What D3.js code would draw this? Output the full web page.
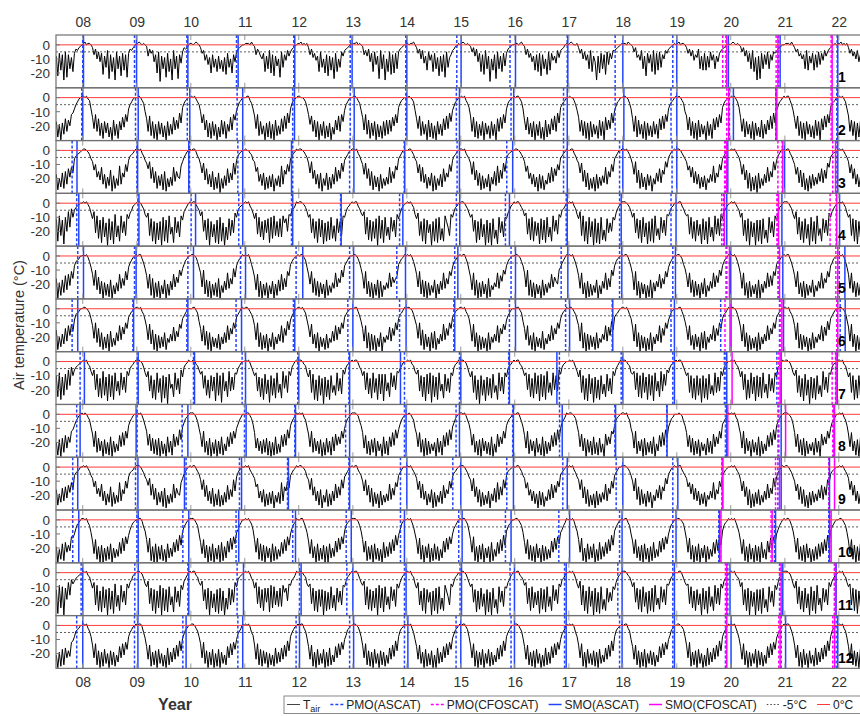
<!DOCTYPE html>
<html>
<head>
<meta charset="utf-8">
<script src="https://cdn.jsdelivr.net/npm/d3@7"></script>
<style>
  body { margin: 0; background: #fff; }
  text { font-family: Arial, "Liberation Sans", sans-serif; }
</style>
</head>
<body>
<svg width="860" height="716"></svg>
<script>
// years covered by the Tair strings (2007 = Jul-Dec only, 2022 = Jan-Jun only)
var years = d3.range(2007, 2023);

// Tair, about one value per 10 days.
// code: digits = +value, a..z = -1..-26, A..D = -27..-30
var tair01 = ["hvfrgy ewgqis fcdba0","120110 bgcjel fuhpdx gsiyeq hvfrgw fcdba1","121010 ahcfdl gtezhq iwfsjy dqhxgm ebcb01","101210 bfdkgn itgpjs hqksiu fpjtgl ecba00","111020 agcehj fshqdt gvhojw epgkdh ecba01","120101 bgcifk hsepjt gvhrix fsjpeh dcba10","112010 agdhcl fsenhx dqgyjs eugtfq ecba01","101120 bfcjdm hrekgs fqivhs gwepig dcaa10","121010 aebhcl fsgudq hzjrgx eqhsfo fcba00","110120 agcifl hrgsfv gqjuer fkhmdi dcb010","121001 bfcjek gqdshl yhtfqg uenfjd dcba01","110210 aebigk dqhvfm gsdufr epgjdf cba010","120110 bfchdk gicqhr frhpek gqhlfd cba010","121010 aebhdl fqdsiy hxfqgn eqgkef dcba00","111020 bechfj gqdrhm frgpen fkdhec ba0101","120101 bfchej dlgkfh"];
var tair02 = ["qBsDrz oxptlk heca01","101abh nvlxoA rCqyrB uDpAsC qwnulq heca00","010bdj oxmAqC sDqzrB tDqAsz nwpvkr gdba00","101ace jrlwpB rCqAsD uBpzqC sxnwlp ifcb00","011bdh mvlAqz tDrBqC sDpAtz oxmvkr hdba01","100acg lsmxpB qDsAqC tBrDuz pwmxlq ieca00","110bdi nwlzpC rAqDsB tCqApz pxntlr gdba00","010aci ovmAqz sDpBrC tDqzsA owmvkq ifcb00","101bdg mxnBqC sAqDrz tCqAsD oxnvlr hdba01","011ach pwnzrB qDsAqC uDpBsz owmxkr gecb00","100bei nxpAqC rDqBsz tCpAqD nwpvkr ifcb00","110adh oxmBpz sCqDrA tBqzsC owmvlq hecb01","010bdj mwnAqC rDpBsz tDqAsC ownulr gdba00","101acg nxoBqz sCqDrA uBpCsz pwmvkr ifcb01","011bei ovmAqC rDqzsB tCpAqD owmulr gdcb00","101ach mxpAqD rBqCsz"];
var tair03 = ["qBtzpA oxmslp fdcba0","110acf hnjsou lxqAsy nCrAty kxpsjo gdcb01","101bdg imhtlw oAryqB oCtzsy lvostk heca01","011adf jpiumx qzoBsA pDtAry mwpuiq gdba00","100bcg holvqy pBsArz qCtyrz kxnqjo fdba10","110ace iphtnx qApCty pBsAqx lvntio geca01","101bdg jqitmy oBrzsC qAtysx lwotkn fdb000","011acf hpjvlw qAsypC rBtyqz mvpsjo gdca01","101bdf iqhuny pBrAtz qCsxoy kwntio fcba00","110ace hoktpx qzsCqA rBuxpw lvmrjn edba10","011bdg ipivnz pBtAsC qAsyrw lxosjo fdb001","101acf jqhwnA pzsBqy rCtxpv mwnqhl eca010","110bdf hnkslw oxqAsz rBtwqv kwpsjn fdba00","101ace iqjunA pCsBrD pAtyqw lvoshn gdb010","011bdg jqlwnz pBtCrA qysxpv mwntil ecba00","101ace hpjtmx qzsBrA"];
var tair04 = ["kAiwlC jtfqdj ecba00","101acg kfuiyl BjxnDk zmChxp Aiumwh kgeba0","110bdh jgwkAm CnzmDj AlBivq Bjumxi lfdb01","011ace iftlzk DmxoBl CjAnDq zkwlug jecba0","101bdg kgvjxm zlukBj yiwmxk xinkth iedb10","110acf jhukym BkxlCn Amzjyp Akumwi jfcb01","011bdg ifvjzl AmykDi ylBjwq zjtlxh kgdba0","101ach kgwmAk CluoDm AkBjzr Aimqwh jfcb00","110bdg jhtlBm zkxoDl BnDkys Cjumxj kgeba1","011ace igvkzj AmwnCk zlBjxq Aitlvh jedb00","101bdh kfwiAm CjxmDk BnCjzs Akuntj lgdba1","110acf jgukyl BjxnCm AkBiwr zjulwh ifcb00","011bdg ihvjym AlwoCk zmCjxq Aivkwh kfdba0","101ace jgwlAk DmxnDl AlCkys Bjumxi lgcb01","110bdh kfvjzm BkyoDj AmCiwr Akulwg jfdba0","101acg jhwkAl CmxoDk"];
var tair05 = ["pDsBqz nxmukp gdcb00","101adh mujxoA rDsBtC qDuAsy mwpukq heca01","011bei nwmBpD sCrDuA qDtBrx mvosjn ifcb00","110adh lvjAqC rDtBsC pDuzrx lwptio gdba10","101bfj oxmCrD tBsDuA rDtBqy mxpvkn fdba01","011ach mtkzpB rCsAtD qBuzsw lvpsjo geca00","110bei nwkArC sDtBqD rCuxsw lvospn fdba10","101adh mvkAqC rDsBuz qDtArx lwptkn hdca01","011bej oxlBqD sCrAtD pCuxsv lwnrjm gdba00","110adg lvjBqC sDtAuD qBtzsw mvortj heca10","101bei nwlAsD rCtBuz qDuArw lxpvjn gdba01","011adh mxkBrD sAtDuC qDsyrv mwptko heca00","110bfi nvlzqC rBtDsA pCuyrw lvnsjn gdba10","101adh mwlBsD rCuAtD qDtzrw lvnukn fdca01","011bei nvkAsC rDtBuz qCuyrw lwpsko geba00","101adh mwlzrC sBtDuA"];
var tair06 = ["oCtAry nwlskp hdcb00","110acg lujxnA qCtBrD pAuzqw lvmrjn fdba01","101bdh mvkyoC rDsBtA qCuxrw mwptkn geca00","011aci nwlzpC qDtAuB rCtyqx lvnrjn fdb010","110bdg lvjAqC sBrDuA qCtyrw lxnsio heca01","101ach mtkyrB qDtAuC rBuxpw lvmrjn fdba00","011bei nwlBqD rCsDuA qDtxsv mwnsjo gdca10","110adh lujzoC rAtDqB pCuyrw kvnsjn fdba01","101bdg mwkAqD sCtBuD qCtxrw lxnrko heca00","011aci nvlzsC qDtAuB pCuyrw lvnrjn gdba10","110bdh lwjBqD rCsAtC qBuxrv lwmsio fdca01","101adg mwkAqD sBtDuC qDtyrw lxnsjn heba00","011bei nvlzsC rAtDqB pCtxrv lwnsjn gdca10","110adh mwkAqD sCuBtD qCtyrw lvnrjn fdba01","101bdg lvjBrC sAtDuC qBtxrv lwmsio geca00","110ach mwkArD sCtBuD"];
var tair07 = ["jyhAkx itfqdj fdcba0","101bcg jftiyl zgxkBi yjAhun xhtkvg jecb01","110adh kgujzm AhvlCj zkDisp yhtlwf kdba10","011bcf igsjxm zjukBh xjChun ygukth ieca00","101adg jhukyl AiwmCj xlzhvp zgsjvg jdb010","110bch kfviAm BjxlDk ymAjvq xhulwf idba01","011adf jgthwl zhvlAi wiBiuo yhrjtg heca00","101bcg ifujyk BiwhCj ykAhup ziulvh jdba10","110adh kgvjAm DjxmBk xlzivq Ahukwh kecb01","011bcf jhtiyl zhwjBi yjAgvo xhtjuf idba00","101adg kfvjAl BiwlCk zmAjwp yiulwg jeca10","110bch igthyj zhvkAi xjBhun yguiqf hdba01","011adg jhvjzl AjxlCj zlAiwq xhvkug jeba00","101bcf kgtiAm zhwkBj ykzhvp ziulvh kdca10","110adh jfvjyl BixmDk zlAjwq ygtkvh idba01","101bcg khvjAm zjxlCk"];
var tair08 = ["tCrDqA oxptlk heca01","010bdi nwlAqz sDrBtC pDsAuz owmvlq heca00","101adh lvnzqB rCqDsB uDpAsC nwpvkr ifcb01","110bej owlAsC qDtBrD sBpCuz pwmulq jgdb00","011acg mxqzsB rAqCsD tCpBuA ownvkq heca10","101bdi nwlAqz sBrDtC qAsCpz nvpulq jfcb01","110aeh mxoBsC rAqDsz uDpBsC pwmvkq kgdba0","010bdj nwmArD qCsBuz tDqAsC owmvkr ifca01","101adg lvnAsC rDqzsB tCpDuA nwpulq hecb00","011bei oxlBrz sDqAuC pDsBtz owmvkr jfdb10","110ach mwnzqD rAsCpB tCqAuD nvpuln hdba01","101bdj nxlBsz rDqCtA sBpDuz owmvkq ifcb00","010aeh mwoAqC sBrDtz uCqAsB nwpulq gecb10","101bdi nxlBqz sDrAtC pDsBuz owmvkr heca01","110acg mwnArC qDsBuz tCqAsD nvpulq jfdb00","101bdh nwmzsC rDqAtB"];
var tair09 = ["pAsyox nvmrkp fdcb00","101acf hnjsou lxqAsy nBrzty kxpsjo gdcb01","110bdg imhtlw oAryqB oCtzsy lvostk heca01","011ace ipiumx qzoBsA pBtAry mwpuiq gdba00","101bdf hnlvqy pBsArz qCtyrz kxnqjo fdba10","110acg iphtnx qApCty pBsAqx lvntio geca01","011bdf jqitmy oBrzsC qAtysx lwotkn fdb000","101ace hpjvlw qAsypC rBtyqz mvpsjo gdca01","110bdg iqhuny pBrAtz qCsxoy kwntio fcba00","011acf hoktpx qzsCqA rBuxpw lvmrjn edba10","101bdg ipivnz pBtAsC qAsyrw lxosjo fdb001","110acf jqhwnA pzsBqy rCtxpv mwnqhl eca010","011bdf hnkslw oxqAsz rBtwqv kwpsjn fdba00","101ace iqjunA pCsBrz pAtyqw lvoshn gdb010","110bdg jqlwnz pBtCrA qysxpv mwntil ecba00","101ace hpjtmx qzsBrA"];
var tair10 = ["sDuBqC pwrvlm jfcb01","101bdi oxnBsD rDtCsB qDtAuz pxmvlq kgdba0","011aeh nwmCsD qDsBrC uDqAtz pwnvkr heca01","110bdj pxnArD sCqDtB rDpCsA owmulq igdb00","101acg nwmBqC rDsAtD qCsBuz pxnvlr jfcb10","011bei oxnAsD qCtBrD sDqAtz owmulq hdba01","110adh nwoCsB rDqBtC uDpAsz pxnvkr kgca00","101bej oxmBrD sAqDtC qBsCuA owmulq jfdb01","011ach nwlCsD rBqDtA sDpCuz pxnvkr hecb00","110bdi pxnBrC sDqAtD rCsBuA owmulq igdb10","101aeh nwmCtD qBsAqD uCpBsz pxnvkr heca01","011bdj oxnAsC rDqBtD sCpAuz owmulq jfcb00","110ach nwmBrD sCqDtA rDsBuz pxnvkr hdba10","101bei oxnCsD qBtDrC sDpAuB owmulq jgdb01","011adh nwmBsC rDqAtD uCsBqz pxnvkr heca00","110bdi oxnBrD sCqDtA"];
var tair11 = ["lCiyjD ksgpeh fdcba0","101bcg kgwiAm BjylDk zmChxp Aiumwh kgeba0","110adh jfvkAl CmyiDk AlBjwq Bjumxi lfdb01","011bcg iftlzk DmyoBl CkAmDr zkwlug jecba0","101adf kgvjyl AkukBi yjwmxk xinkth iedb10","110bch jhvkAm BlxlDm Anzjyp Akumwi jfcb01","011adg ifwjzl AmykDi ykBjwq zjtlxh kgdba0","101bch kgwmAk ClunDm AkCjzr Aimqwh jfcb00","110adg jhulBm zkxoDl BnDkys Cjumxj kgeba1","011bce igvkAj ynwmCk zlBjxq Aitlvh jedb00","101adh kfwiAm CjxmDk BnCjzs Akuntj lgdba1","110bcf jgukzl BjxnCm AkBiwr zjulwh ifcb00","011adg ihvjym AlwoDk zmCjxq Aivkwh kfdba0","101bce jgwlAk DmxnDl AlCkys Bjumxi lgcb01","110adh kfvjzm BkyoDj AmCiwr Akulwg jfdba0","101bcg jhwkAl CmxoDk"];
var tair12 = ["uDsCqB pwrvlk hdcb00","101bdh nwmBrD sCqAtD rBsCuz owmulq heca01","011aei oxnCsB rDqAtC uDpBsz pxnvkr ifcb00","110bdh mwlArD sBqDtC qDsAuB owmulq jfdb10","101aeg nxmBqC rAsDtB uCpAsz pxnvkr heca01","011bdi oxnCsD qBtAqD sCpBuz owmulq jgcb00","110adh nwmBrC sDqAtD rBsCuA pxnvkr hdba10","101bej oxnAsD qCtBrD uDpAsz owmulq ifcb01","011ach nwmCrD sBqDtA qCsBuz pxnvkr heca00","110bdi oxnBsC rDqAtD uCpBsA owmulq jfdb10","101aeh nwmCsD qAtBrC sDqAuz pxnvkr hdba01","011bdj oxnBrD sCqDtA rBsCuz owmulq jgcb00","110ach nwlCsB rDqAtD uCpBsz pxnvkr heca10","101bei oxmBrD sCtAqD rBsCuA owmulq ifdb01","011adh nwnCsD qBtDrA uCpBsz pxnvkr hdba00","101bdi oxmBrC sDqAtB"];
var tairPanels = [tair01, tair02, tair03, tair04, tair05, tair06, tair07, tair08, tair09, tair10, tair11, tair12];

// melt onset dates, days relative to 1 Jan of 2008..2022 (negative = December before)
var pmoAscat = [
  [0, -16, -27, -56, -34, -18, -7, -27, -32, -11, -52, -27, -32, -43, -11],
  [-7, -9, -24, -52, -41, -18, -7, -30, -25, -36, -52, -39, -9, -61, -14],
  [-72, 0, -9, -47, -41, -22, -18, -25, -54, -36, -22, -32, -36, -18, -18],
  [-41, 7, 2, -41, -49, -83, -49, -30, -63, -18, -22, -39, -49, -47, -18],
  [-34, -16, -20, -29, -18, -22, -68, -41, -25, -52, -22, -27, -27, -41, 3],
  [-72, -27, -27, -59, -36, -34, -49, -47, -36, -22, -72, -39, -68, -36, 9],
  [-18, 2, 18, -18, -7, -27, -16, -9, -41, -64, -11, -27, -43, -54, -22],
  [-41, 2, -59, -2, -27, -49, -16, -32, -14, -63, -54, -68, -36, -41, -34],
  [-68, -9, -32, -36, -76, -27, -43, -54, -54, -41, -45, -27, -59, -47, -68],
  [-68, 0, -54, -59, -41, -45, -43, -14, -63, -68, -22, -27, -81, -70, -68],
  [-11, -14, -20, -52, 5, -41, -16, -5, -32, -29, -34, -27, -20, -36, -30],
  [-41, -16, -54, -47, -18, -22, -16, -32, -25, -29, -22, -27, -36, -25, -18]
];
var smoAscat = [
  [5, -2, -20, -45, -27, -5, 0, 2, 5, -7, 0, 0, -16, -32, -7],
  [0, 9, -7, -14, -29, 9, 0, -9, -7, -11, 7, 0, 18, -59, -7],
  [-39, 5, -14, -14, -49, 7, -14, -9, -14, -11, 0, 0, -20, -2, -7],
  [-27, 14, 32, -14, -41, -79, -27, -7, -36, -11, -11, -5, -27, -20, 5],
  [5, -5, 18, 5, 27, 5, -9, -20, 5, -7, -7, -9, 0, -14, 41],
  [-34, -22, -20, -22, -27, 0, -5, -41, 5, 5, -68, -16, 2, -9, 43],
  [11, 9, 25, 5, 0, -22, -43, 0, -36, -81, 0, -16, -27, -25, -11],
  [-18, -5, -20, 9, -22, -22, -5, -9, -9, -45, -49, -66, -27, -25, -29],
  [-34, 7, -43, -22, -70, -22, 0, 0, -9, -11, 0, 7, -54, -25, -63],
  [-27, 9, -14, -41, -22, -11, -16, 9, -25, 5, -5, -5, -76, -63, -63],
  [0, 9, -14, -9, 16, 0, -5, 5, -2, -18, -5, -16, -5, -14, -18],
  [0, 7, -32, -14, 5, 5, 7, 0, -2, -18, -5, -16, 2, 5, -7]
];
// CFOSCAT only for 2020..2022
var cfoYears = [2020, 2021, 2022];
var pmoCfoscat = [
  [-54, -59, -52], [-27, -57, -52], [-41, -47, -41], [-61, -54, -59],
  [-32, -47, -20], [-39, -32, -14], [-34, -41, -45], [-32, -47, -41],
  [-61, -63, -68], [-74, -93, -61], [-36, -32, -27], [-32, -41, -41]
];
var smoCfoscat = [
  [-27, -47, -45], [-14, -54, -45], [-27, -14, -22], [-43, -43, -14],
  [-9, -36, -7], [-5, -20, -7], [9, -32, -18], [-20, 5, -32],
  [-56, -36, -29], [-66, -86, -52], [-27, -25, -22], [-27, -32, -29]
];
var ascatYears = d3.range(2008, 2023);
var yTicks = [0, -10, -20];

// ---------------------------------------------------------------
var svg = d3.select("svg");
var plotLeft = 56, plotRight = 861, plotTop = 35, panelH = 52.78, nPanels = 12;
var blue = "#2244ff", magenta = "#ff00ff", red = "#ff3b3b";

var x = d3.scaleTime()
  .domain([new Date(2007, 6, 4), new Date(2022, 4, 31)])
  .range([plotLeft, plotRight]);
var y = d3.scaleLinear().domain([-30.5, 7]).range([panelH, 0]);
var yearTicks = d3.timeYear.range(new Date(2008, 0, 1), new Date(2023, 0, 1));

function decodeTemp(ch) {
  if (ch >= "0" && ch <= "9") return +ch;
  if (ch >= "a" && ch <= "z") return -(ch.charCodeAt(0) - 96);
  return -(ch.charCodeAt(0) - 64 + 26);
}

function buildSeries(yearStrings) {
  var pts = [];
  yearStrings.forEach(function(s, i) {
    var yr = years[i];
    var vals = s.replace(/\s+/g, "").split("").map(decodeTemp);
    var t0 = yr === 2007 ? new Date(2007, 6, 1) : new Date(yr, 0, 1);
    var t1 = yr === 2022 ? new Date(2022, 6, 1) : new Date(yr + 1, 0, 1);
    var step = (t1 - t0) / vals.length;
    vals.forEach(function(v, k) {
      pts.push({ date: new Date(+t0 + step * (k + 0.5)), value: v });
    });
  });
  return pts;
}

function dayOf(yr, off) { return d3.timeDay.offset(new Date(yr, 0, 1), off); }

svg.append("defs").append("clipPath").attr("id", "pclip")
  .append("rect").attr("x", plotLeft).attr("y", 0)
  .attr("width", plotRight - plotLeft).attr("height", panelH);

var line = d3.line()
  .x(function(d) { return x(d.date); })
  .y(function(d) { return y(d.value); });

tairPanels.forEach(function(strs, p) {
  var g = svg.append("g").attr("transform", "translate(0," + (plotTop + p * panelH) + ")");
  var body = g.append("g").attr("clip-path", "url(#pclip)");

  body.append("path")
    .datum(buildSeries(strs))
    .attr("fill", "none")
    .attr("stroke", "#000")
    .attr("stroke-width", 1)
    .attr("stroke-linejoin", "round")
    .attr("d", line);

  function vlines(offsets, yrs, color, dash) {
    body.selectAll(null)
      .data(offsets.map(function(o, i) { return dayOf(yrs[i], o); }))
      .enter().append("line")
      .attr("x1", function(d) { return x(d); })
      .attr("x2", function(d) { return x(d); })
      .attr("y1", 0).attr("y2", panelH)
      .attr("stroke", color)
      .attr("stroke-width", 1.5)
      .attr("stroke-dasharray", dash);
  }
  vlines(pmoAscat[p], ascatYears, blue, "3,2");
  vlines(pmoCfoscat[p], cfoYears, magenta, "3,2");
  vlines(smoAscat[p], ascatYears, blue, null);
  vlines(smoCfoscat[p], cfoYears, magenta, null);

  body.append("line")
    .attr("x1", plotLeft).attr("x2", plotRight)
    .attr("y1", y(-5)).attr("y2", y(-5))
    .attr("stroke", "#333").attr("stroke-width", 0.8)
    .attr("stroke-dasharray", "2,2");
  body.append("line")
    .attr("x1", plotLeft).attr("x2", plotRight)
    .attr("y1", y(0)).attr("y2", y(0))
    .attr("stroke", red).attr("stroke-width", 1);

  // inward ticks
  g.selectAll(null).data(yearTicks).enter().append("path")
    .attr("d", function(d) {
      var xx = x(d);
      return "M" + xx + ",0V5M" + xx + "," + panelH + "V" + (panelH - 5);
    })
    .attr("stroke", "#999").attr("stroke-width", 1);
  g.selectAll(null).data(yTicks).enter().append("line")
    .attr("x1", plotLeft).attr("x2", plotLeft + 4)
    .attr("y1", function(d) { return y(d); })
    .attr("y2", function(d) { return y(d); })
    .attr("stroke", "#777");

  g.append("rect")
    .attr("x", plotLeft).attr("y", 0)
    .attr("width", plotRight - plotLeft).attr("height", panelH)
    .attr("fill", "none").attr("stroke", "#707070").attr("stroke-width", 1.2);

  var ya = g.append("g").attr("transform", "translate(" + plotLeft + ",0)")
    .call(d3.axisLeft(y).tickValues(yTicks).tickSize(0).tickPadding(6)
      .tickFormat(function(d) { return String(d); }));
  ya.select(".domain").remove();
  ya.selectAll("text").attr("font-size", 13.5).attr("fill", "#333")
    .style("font-family", "Arial, 'Liberation Sans', sans-serif");

  g.append("text")
    .attr("x", 838).attr("y", 47)
    .attr("font-size", 14).attr("font-weight", "bold")
    .text(p + 1);
});

// year axes top and bottom
var fmt = d3.timeFormat("%y");
var topAxis = svg.append("g").attr("transform", "translate(0," + plotTop + ")")
  .call(d3.axisTop(x).tickValues(yearTicks).tickFormat(fmt).tickSize(0).tickPadding(8));
var bottomY = plotTop + nPanels * panelH;
var botAxis = svg.append("g").attr("transform", "translate(0," + bottomY + ")")
  .call(d3.axisBottom(x).tickValues(yearTicks).tickFormat(fmt).tickSize(0).tickPadding(9));
[topAxis, botAxis].forEach(function(a) {
  a.select(".domain").remove();
  a.selectAll("text").attr("font-size", 14).attr("fill", "#333")
    .style("font-family", "Arial, 'Liberation Sans', sans-serif");
});

svg.append("text")
  .attr("x", 175).attr("y", 710)
  .attr("text-anchor", "middle")
  .attr("font-size", 16).attr("font-weight", "bold").attr("fill", "#333")
  .text("Year");

svg.append("text")
  .attr("transform", "translate(24,325) rotate(-90)")
  .attr("text-anchor", "middle")
  .attr("font-size", 14.5).attr("fill", "#333")
  .text("Air temperature (°C)");

// legend
var legendItems = [
  { label: "T", sub: "air", color: "#444", dash: null, w: 1 },
  { label: "PMO(ASCAT)", color: blue, dash: "3,2", w: 1.5 },
  { label: "PMO(CFOSCAT)", color: magenta, dash: "3,2", w: 1.5 },
  { label: "SMO(ASCAT)", color: blue, dash: null, w: 1.5 },
  { label: "SMO(CFOSCAT)", color: magenta, dash: null, w: 1.5 },
  { label: "-5°C", color: "#444", dash: "1.5,2", w: 1 },
  { label: "0°C", color: red, dash: null, w: 1 }
];
var lg = svg.append("g");
lg.append("rect")
  .attr("x", 284).attr("y", 696)
  .attr("width", 600).attr("height", 17.5)
  .attr("fill", "#fff").attr("stroke", "#888").attr("stroke-width", 1);
var lx = 287;
legendItems.forEach(function(it) {
  lg.append("line")
    .attr("x1", lx).attr("x2", lx + 13)
    .attr("y1", 704.5).attr("y2", 704.5)
    .attr("stroke", it.color).attr("stroke-width", it.w)
    .attr("stroke-dasharray", it.dash);
  var t = lg.append("text")
    .attr("x", lx + 16).attr("y", 709)
    .attr("font-size", 12).attr("fill", "#222")
    .text(it.label);
  if (it.sub) {
    t.append("tspan").attr("dy", 3).attr("font-size", 9).text(it.sub);
  }
  lx += 16 + t.node().getComputedTextLength() + 10;
});
</script>
</body>
</html>
